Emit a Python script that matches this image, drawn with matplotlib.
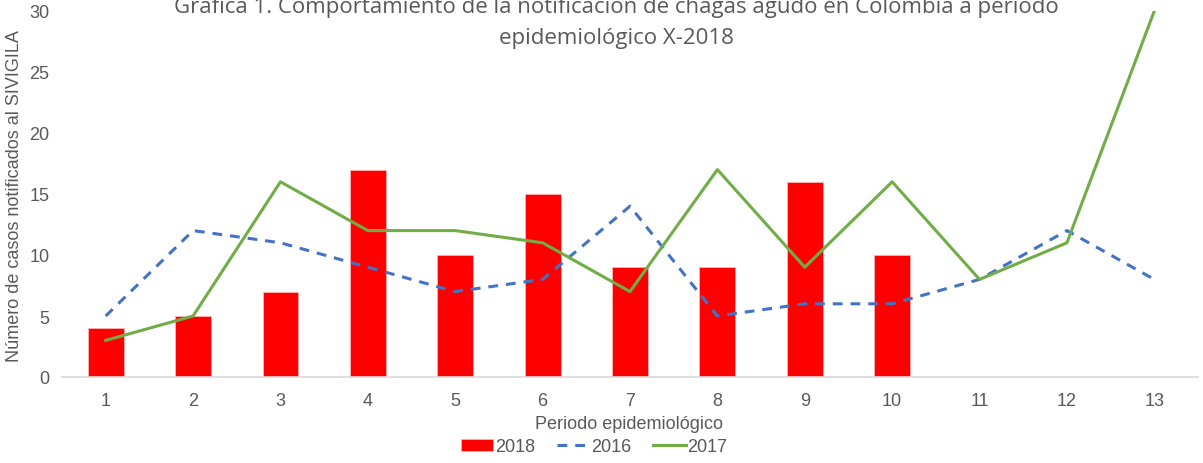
import matplotlib
matplotlib.use("Agg")
import matplotlib.pyplot as plt
import numpy as np

periods = list(range(1, 14))
cases_2018 = [4, 5, 7, 17, 10, 15, 9, 9, 16, 10]
cases_2016 = [5, 12, 11, 9, 7, 8, 14, 5, 6, 6, 8, 12, 8]
cases_2017 = [3, 5, 16, 12, 12, 11, 7, 17, 9, 16, 8, 11, 30]
yticks = [0, 5, 10, 15, 20, 25, 30]

W, H = 1203, 464
fig = plt.figure(figsize=(W / 100, H / 100), dpi=100)
ax = fig.add_axes([62 / W, 1 - 378 / H, (1198 - 62) / W, (378 - 12) / H])

grey = "#595959"
fs = 13
bar_x = periods[:len(cases_2018)]
b = ax.bar(bar_x, cases_2018, width=0.41, color="#ff0000", edgecolor="#ffb3b3",
           linewidth=0.6, label="2018", zorder=2)
l16, = ax.plot(periods, cases_2016, color="#4472c4", lw=2.2, dashes=(3.2, 2.6),
               label="2016", zorder=3)
l17, = ax.plot(periods, cases_2017, color="#70ad47", lw=2.2, label="2017", zorder=4)

ax.set_xlim(0.5, 13.5)
ax.set_ylim(0, 30)
ax.set_xticks(periods)
ax.set_yticks(yticks)
ax.tick_params(axis="both", length=0, colors=grey, labelsize=fs)
ax.tick_params(axis="x", pad=11)
ax.tick_params(axis="y", pad=9)
for lbl in ax.get_xticklabels() + ax.get_yticklabels():
    lbl.set_fontfamily("Liberation Sans")
for s in ["top", "right", "left"]:
    ax.spines[s].set_visible(False)
ax.spines["bottom"].set_color("#d9d9d9")
ax.spines["bottom"].set_linewidth(1.2)

fig.text(15 / W, 1 - 196 / H, "Número de casos notificados al SIVIGILA",
         rotation=90, ha="center", va="center", color=grey, fontsize=fs,
         family="Liberation Sans")
fig.text(629 / W, 1 - 425 / H, "Periodo epidemiológico", ha="center",
         va="center", color=grey, fontsize=fs, family="Liberation Sans")
fig.text(616 / W, 1 - 23 / H,
         "Grafica 1. Comportamiento de la notificación de chagas agudo en Colombia a periodo\nepidemiológico X-2018",
         ha="center", va="center", color=grey, fontsize=16,
         family="Open Sans", linespacing=1.6)

leg = fig.legend([b, l16, l17], ["2018", "2016", "2017"], loc="center",
                 bbox_to_anchor=(594 / W, 1 - 448 / H), ncol=3,
                 frameon=False, handlelength=1.8, handleheight=0.6,
                 handletextpad=0.1, columnspacing=1.2,
                 prop={"family": "Liberation Sans", "size": fs})
for t in leg.get_texts():
    t.set_color(grey)

fig.savefig("out.png", dpi=100)
